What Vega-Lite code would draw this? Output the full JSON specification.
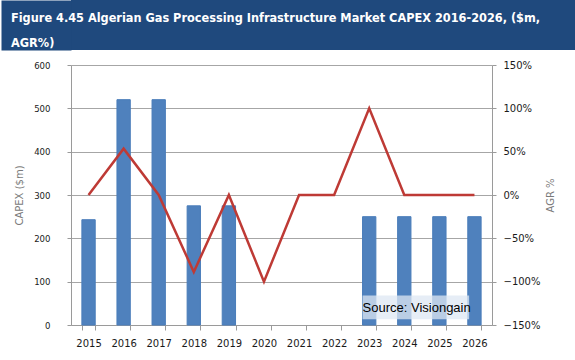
{
  "$schema": "https://vega.github.io/schema/vega-lite/v6.json",
  "autosize": {"type": "pad"},
  "padding": 0,
  "background": "white",
  "columns": 1,
  "align": "none",
  "spacing": 10,
  "config": {
    "view": {"stroke": null},
    "axis": {"labelFont": "DejaVu Sans", "labelFontSize": 10, "labelColor": "#1a1a1a", "titleFont": "DejaVu Sans", "titleFontSize": 10, "titleFontWeight": "normal", "titleColor": "#7a7a7a", "domainColor": "#9a9a9a", "tickColor": "#9a9a9a", "gridColor": "#a6a6a6"}
  },
  "concat": [
    {
      "width": 505,
      "height": 50,
      "view": {"fill": "#1F497D", "stroke": null},
      "title": {
        "text": ["Figure 4.45 Algerian Gas Processing Infrastructure Market CAPEX 2016-2026, ($m,", "AGR%)"],
        "anchor": "start",
        "frame": "group",
        "orient": "top",
        "baseline": "top",
        "offset": -50,
        "dx": -60,
        "color": "white",
        "font": "DejaVu Sans Condensed, sans-serif",
        "fontSize": 12.6,
        "fontWeight": "bold",
        "lineHeight": 25
      },
      "data": {"values": [{"a": 1}]},
      "mark": {"type": "rect", "opacity": 0},
      "encoding": {
        "y": {
          "field": "a", "type": "quantitative",
          "axis": {"domain": true, "domainColor": "#1F497D", "domainWidth": 70, "offset": 35, "labels": false, "ticks": false, "grid": false, "title": null}
        }
      }
    },
    {
      "width": 421,
      "height": 260,
      "data": {"values": [
        {"year": 2015, "capex": 243, "agr": 0},
        {"year": 2016, "capex": 520, "agr": 0.535},
        {"year": 2017, "capex": 520, "agr": 0},
        {"year": 2018, "capex": 275, "agr": -0.888},
        {"year": 2019, "capex": 275, "agr": 0},
        {"year": 2020, "capex": 0, "agr": -1},
        {"year": 2021, "capex": 0, "agr": 0},
        {"year": 2022, "capex": 0, "agr": 0},
        {"year": 2023, "capex": 250, "agr": 1.0},
        {"year": 2024, "capex": 250, "agr": 0},
        {"year": 2025, "capex": 250, "agr": 0},
        {"year": 2026, "capex": 250, "agr": 0}
      ]},
      "encoding": {
        "x": {
          "field": "year", "type": "ordinal",
          "scale": {"paddingInner": 0.62, "paddingOuter": 0.31},
          "axis": {"title": null, "labelAngle": 0, "tickBand": "extent", "tickSize": 5, "labelPadding": 8}
        }
      },
      "layer": [
        {
          "layer": [
            {
              "transform": [{"filter": "datum.capex > 0"}],
              "mark": {"type": "bar", "color": "#4F81BD", "stroke": "#4A7DBA", "strokeWidth": 1},
              "encoding": {
                "y": {
                  "field": "capex", "type": "quantitative",
                  "scale": {"domain": [0, 600], "nice": false},
                  "axis": {
                    "title": ["", "CAPEX ($m)"],
                    "titleLineHeight": 14,
                    "titlePadding": 9,
                    "values": [0, 100, 200, 300, 400, 500, 600],
                    "grid": true,
                    "tickSize": 4,
                    "labelPadding": 17,
                    "labelFont": "DejaVu Sans Condensed, sans-serif",
                    "labelFontSize": 9.5
                  }
                }
              }
            },
            {
              "data": {"values": [{"x1": 2023, "x2": 2026, "y1": 13, "y2": 68}]},
              "mark": {"type": "rect", "fill": "#DDE7F3", "opacity": 0.75},
              "encoding": {
                "x": {"field": "x1", "type": "ordinal", "bandPosition": 0},
                "x2": {"field": "x2", "bandPosition": 0.1},
                "y": {"field": "y1", "type": "quantitative"},
                "y2": {"field": "y2"}
              }
            },
            {
              "data": {"values": [{"x1": 2023, "y": 40, "label": "Source: Visiongain"}]},
              "mark": {"type": "text", "align": "left", "baseline": "middle", "font": "Liberation Sans, Arial, sans-serif", "fontSize": 13, "color": "#000000"},
              "encoding": {
                "x": {"field": "x1", "type": "ordinal", "bandPosition": 0},
                "y": {"field": "y", "type": "quantitative"},
                "text": {"field": "label"}
              }
            }
          ]
        },
        {
          "mark": {"type": "line", "color": "#BE3A35", "strokeWidth": 2.5},
          "encoding": {
            "y": {
              "field": "agr", "type": "quantitative",
              "scale": {"domain": [-1.5, 1.5], "nice": false},
              "axis": {
                "orient": "right",
                "title": "AGR %",
                "titleAngle": 270,
                "titlePadding": 16,
                "format": ".0%",
                "values": [-1.5, -1, -0.5, 0, 0.5, 1, 1.5],
                "grid": false,
                "tickSize": 4,
                "labelPadding": 7
              }
            }
          }
        }
      ],
      "resolve": {"scale": {"y": "independent"}}
    }
  ]
}
